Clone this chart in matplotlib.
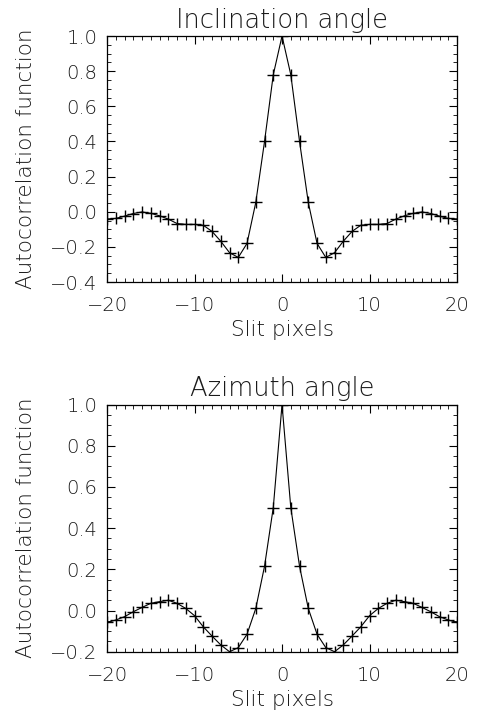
import matplotlib
matplotlib.use("Agg")
import matplotlib.pyplot as plt
from matplotlib.ticker import MultipleLocator

# slit pixel lags
lags = list(range(-20, 21))

incl = [-0.041, -0.038, -0.025, -0.010, -0.001, -0.009, -0.023, -0.042, -0.067, -0.072,
        -0.072, -0.077, -0.112, -0.168, -0.233, -0.260, -0.180, 0.053, 0.400, 0.780,
        1.000,
        0.780, 0.400, 0.053, -0.180, -0.260, -0.233, -0.168, -0.112, -0.077, -0.072,
        -0.072, -0.067, -0.042, -0.023, -0.009, -0.001, -0.010, -0.025, -0.038, -0.041]

azim = [-0.058, -0.046, -0.030, -0.006, 0.015, 0.035, 0.043, 0.050, 0.035, 0.010,
        -0.025, -0.079, -0.124, -0.167, -0.200, -0.180, -0.115, 0.010, 0.215, 0.500,
        1.000,
        0.500, 0.215, 0.010, -0.115, -0.180, -0.200, -0.167, -0.124, -0.079, -0.025,
        0.010, 0.035, 0.050, 0.043, 0.035, 0.015, -0.006, -0.030, -0.046, -0.058]

titles = ["Inclination angle", "Azimuth angle"]
ylims = [(-0.4, 1.0), (-0.2, 1.0)]

plt.rcParams['font.family'] = 'DejaVu Sans'
plt.rcParams['font.weight'] = 'light'
plt.rcParams['axes.titleweight'] = 'light'
plt.rcParams['axes.labelweight'] = 'light'
txt = '#1a1a1a'

fig = plt.figure(figsize=(4.81, 7.18), dpi=100)
ax1 = fig.add_axes([0.2225, 0.6072, 0.7277, 0.3426])
ax2 = fig.add_axes([0.2225, 0.0923, 0.7277, 0.3443])

for ax, data, title, ylim in zip([ax1, ax2], [incl, azim], titles, ylims):
    ax.plot(lags, data, color='black', lw=0.8, marker='+', ms=9, mew=1.0)
    ax.set_xlim(-20, 20)
    ax.set_ylim(*ylim)
    ax.xaxis.set_major_locator(MultipleLocator(10))
    ax.xaxis.set_minor_locator(MultipleLocator(1))
    ax.yaxis.set_major_locator(MultipleLocator(0.2))
    ax.yaxis.set_minor_locator(MultipleLocator(0.05))
    ax.yaxis.set_major_formatter(plt.FuncFormatter(lambda v, p: f"{v:.1f}".replace('-', '\u2212')))
    ax.tick_params(which='both', direction='in', top=True, right=True,
                   labelsize=14, labelcolor=txt)
    ax.tick_params(axis='x', pad=10)
    ax.tick_params(axis='y', pad=7)
    ax.tick_params(which='major', length=6, width=0.8)
    ax.tick_params(which='minor', length=3, width=0.6)
    for s in ax.spines.values():
        s.set_linewidth(0.9)
    ax.set_title(title, fontsize=18.5, color=txt, pad=6)
    ax.set_xlabel("Slit pixels", fontsize=15.5, color=txt, labelpad=4)
    ax.set_ylabel("Autocorrelation function", fontsize=15.5, color=txt, labelpad=10)

fig.savefig("out.png", dpi=100)
